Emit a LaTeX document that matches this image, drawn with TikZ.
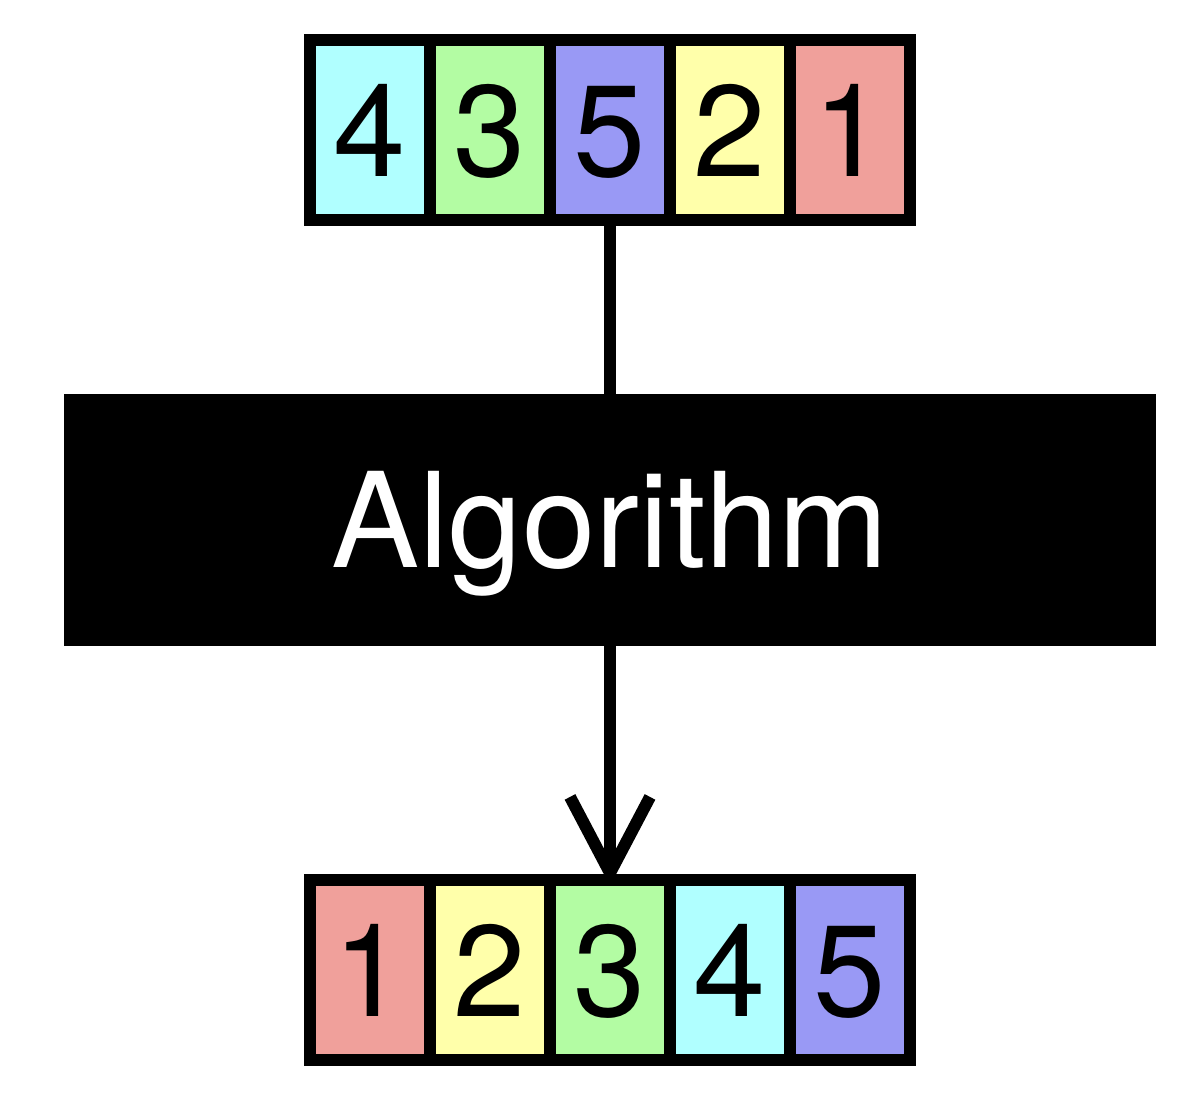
\documentclass[tikz,border=0pt]{standalone}
\usepackage{fontspec}
\setmainfont{TeX Gyre Heros}
\usetikzlibrary{arrows.meta}
\definecolor{ccyan}{RGB}{176,255,255}
\definecolor{cgreen}{RGB}{179,252,163}
\definecolor{cblue}{RGB}{153,153,245}
\definecolor{cyellow}{RGB}{255,255,170}
\definecolor{cred}{RGB}{240,160,155}
\tikzset{
  arr/.style={fill=black, draw=none, inner sep=0pt, minimum width=612pt, minimum height=192pt},
  cell/.style={draw=none, inner sep=0pt, minimum width=108pt, minimum height=168pt,
    font=\fontsize{130}{130}\selectfont, text height=93pt, text depth=0pt},
  algbox/.style={fill=black, draw=none, inner sep=0pt, minimum width=1092pt, minimum height=252pt,
    text=white, font=\fontsize{132}{132}\selectfont, text height=95pt, text depth=0pt},
  conn/.style={line width=12pt, draw=black}
}
\begin{document}
\begin{tikzpicture}[x=1pt,y=-1pt]
\useasboundingbox (0,0) rectangle (1194,1104);
% top array
\node[arr] (top) at (610,130) {};
\node[cell, fill=ccyan]   (t1) at (370,130) {4};
\node[cell, fill=cgreen]  (t2) at (490,130) {3};
\node[cell, fill=cblue]   (t3) at (610,130) {5};
\node[cell, fill=cyellow] (t4) at (730,130) {2};
\node[cell, fill=cred]    (t5) at (850,130) {1};
% algorithm
\node[algbox] (alg) at (610,520) {Algorithm};
% bottom array
\node[arr] (bot) at (610,970) {};
\node[cell, fill=cred]    (b1) at (370,970) {1};
\node[cell, fill=cyellow] (b2) at (490,970) {2};
\node[cell, fill=cgreen]  (b3) at (610,970) {3};
\node[cell, fill=ccyan]   (b4) at (730,970) {4};
\node[cell, fill=cblue]   (b5) at (850,970) {5};
% connectors
\draw[conn] (top.south) -- (alg.north);
\draw[conn, shorten >=-12pt, -{Straight Barb[length=76pt,width=80pt]}] (alg.south) -- (bot.north);
\end{tikzpicture}
\end{document}
